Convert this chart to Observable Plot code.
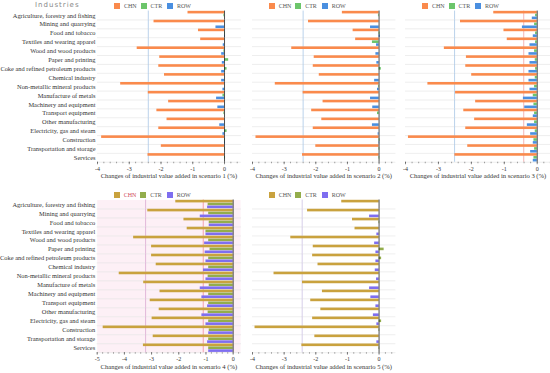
<!DOCTYPE html>
<html><head><meta charset="utf-8">
<script src="https://cdn.jsdelivr.net/npm/d3@7"></script>
<script src="https://cdn.jsdelivr.net/npm/@observablehq/plot@0.6"></script>
<style>
body{margin:0;background:#fff;}
#wrap{position:relative;width:550px;height:373px;overflow:hidden;font-family:"Liberation Serif",serif;}
.panel{position:absolute;}
.legend{position:absolute;font-size:6px;color:#555;white-space:nowrap;}
.legend span.item{position:absolute;top:0;display:flex;align-items:center;}
.legend span.sw{display:inline-block;width:6px;height:6px;margin-right:4px;}
#head{position:absolute;left:35px;top:1px;font-family:"DejaVu Sans",sans-serif;font-size:7px;letter-spacing:1px;color:#888;}
</style></head><body><div id="wrap"><div id="head">Industries</div></div>
<script>
const industries = ["Agriculture, forestry and fishing","Mining and quarrying","Food and tobacco","Textiles and wearing apparel","Wood and wood products","Paper and printing","Coke and refined petroleum products","Chemical industry","Non-metallic mineral products","Manufacture of metals","Machinery and equipment","Transport equipment","Other manufacturing","Electricity, gas and steam","Construction","Transportation and storage","Services"];
const series = ["CHN","CTR","ROW"];

const chn1 = [-1.15,-2.22,-0.82,-0.75,-2.75,-2.04,-2.07,-1.89,-3.27,-2.40,-1.76,-2.13,-1.81,-2.07,-3.87,-1.99,-2.41];
const ctr1 = [-0.02,0,0.02,0,-0.02,0.13,0.08,0,0,-0.05,0,-0.02,0,0.08,0.03,0.02,0.03];
const row1 = [0,-0.27,0.03,-0.04,-0.09,-0.07,-0.09,-0.09,-0.05,-0.25,-0.21,0,-0.15,-0.05,0.03,0,0];

const chn2 = [-1.16,-2.23,-0.82,-0.74,-2.76,-2.05,-2.08,-1.89,-3.28,-2.40,-1.77,-2.13,-1.81,-2.08,-3.89,-2.00,-2.42];
const ctr2 = [-0.02,0,0.03,-0.21,0,0,0.07,0,-0.02,0,0,-0.05,0,0,0.03,0.02,0.02];
const row2 = [0,-0.27,0.04,-0.08,-0.10,-0.07,0,-0.14,-0.05,-0.27,-0.20,0,-0.21,-0.03,0.02,0,0];

const chn3 = [-1.32,-2.33,-1.01,-0.91,-2.82,-2.15,-2.17,-1.99,-3.32,-2.48,-1.87,-2.23,-1.90,-2.17,-3.91,-2.11,-2.50];
const ctr3 = [-0.05,-0.08,-0.05,-0.05,-0.08,-0.06,-0.05,-0.06,-0.08,-0.12,-0.10,-0.08,-0.08,-0.06,-0.10,-0.08,-0.10];
const row3 = [-0.15,-0.45,-0.12,-0.22,-0.25,-0.22,-0.25,-0.25,-0.22,-0.42,-0.38,-0.12,-0.30,-0.20,-0.12,-0.20,-0.12];

const chn4 = [-2.11,-3.14,-1.81,-1.69,-3.66,-3.00,-3.00,-2.83,-4.19,-3.29,-2.69,-3.05,-2.72,-2.98,-4.78,-2.94,-3.30];
const ctr4 = [-0.92,-0.90,-0.88,-1.00,-0.90,-0.85,-0.90,-0.90,-0.92,-0.88,-0.90,-0.90,-0.92,-0.90,-0.88,-0.90,-0.90];
const row4 = [-0.94,-1.21,-0.88,-1.00,-1.05,-1.03,-1.00,-1.09,-1.00,-1.21,-1.15,-0.94,-1.15,-1.00,-0.90,-0.94,-0.90];

const chn5 = [-1.18,-2.26,-0.84,-0.76,-2.79,-2.08,-2.10,-1.93,-3.32,-2.42,-1.79,-2.16,-1.84,-2.10,-3.92,-2.03,-2.44];
const ctr5 = [0,0,0.02,0,0,0.16,0.08,0,0,0,0,0,0,0.08,0.02,0,0.02];
const row5 = [0,-0.30,0,-0.07,-0.14,-0.10,-0.10,-0.12,-0.08,-0.30,-0.26,-0.10,-0.18,-0.07,0,-0.07,0];

const scenarios = ["1","2","3","4","5"];
const refLineA = [-2.4,-2.4,-2.51,-3.22,-2.43];
const refLineB = [null,null,-0.41,-1.1,null];
const topColors = ["#fa8a4c","#6cc56b","#4a8fe0"];
const bottomColors = ["#c9a23e","#93ad4c","#7e6ef0"];

const wrap = document.getElementById("wrap");

function makePanel(cfg) {
  const {vals, domain, x0, x1, top, bandTop, bandBottom, height, colors, labels, title, lineA, lineB, lineAColor, lineBColor, pink, legendTop, legendRed} = cfg;
  const rows = industries.flatMap((ind, i) => series.map((s, j) => ({industry: ind, series: s, value: vals[j][i]})));
  const svgLeft = labels ? 0 : x0 - 4;
  const width = Math.ceil(x1 - svgLeft) + 1;
  const marks = [];
  if (pink) marks.push(Plot.frame({fill: "#fdf0f6", stroke: null}));
  marks.push(Plot.frame({anchor: "bottom", stroke: "#e2e2e2", strokeWidth: 0.6}));
  if (lineA != null) marks.push(Plot.ruleX([lineA], {stroke: lineAColor, strokeWidth: 0.8}));
  if (lineB != null) marks.push(Plot.ruleX([lineB], {stroke: lineBColor, strokeWidth: 0.8}));
  marks.push(Plot.barX(rows, {x: "value", y: "series", fy: "industry", fill: "series"}));
  marks.push(Plot.ruleX([0], {stroke: "#222", strokeWidth: 0.8}));
  const lo = Math.ceil(domain[0]), hi = Math.floor(domain[1]);
  marks.push(Plot.axisX({ticks: d3.range(domain[0], domain[1] + 1e-9, 0.2), tickSize: 1.5, tickFormat: () => "", label: null, stroke: "#444", strokeWidth: 0.5}));
  marks.push(Plot.axisX({ticks: d3.range(lo, hi + 1), tickSize: 2.5, tickPadding: 1.5, fontSize: 6, tickFormat: d => String(d), label: null, stroke: "#444", strokeWidth: 0.6, fill: "#333"}));
  marks.push(Plot.axisX({ticks: [], tickSize: 0, fontSize: 6.6, label: title, labelAnchor: "center", labelOffset: 16, labelArrow: "none", fill: "#333"}));
  if (labels) marks.push(Plot.axisFy({anchor: "left", tickSize: 0, tickPadding: 2, fontSize: 6.4, label: null, fill: "#333"}));
  const p = Plot.plot({
    width, height,
    marginLeft: x0 - svgLeft,
    marginRight: width - (x1 - svgLeft),
    marginTop: bandTop - top,
    marginBottom: height - (bandBottom - top),
    style: {fontFamily: "Liberation Serif, serif", fontSize: "6px", background: "transparent", overflow: "visible", color: "#333"},
    x: {domain, axis: null},
    y: {domain: series, padding: 0.1, axis: null, round: false},
    fy: {domain: industries, padding: 0, axis: null, round: false},
    color: {domain: series, range: colors},
    marks
  });
  p.classList.add("panel");
  p.style.left = svgLeft + "px";
  p.style.top = top + "px";
  wrap.appendChild(p);
  const lg = document.createElement("div");
  lg.className = "legend";
  lg.style.left = (x0 + 17) + "px";
  lg.style.top = legendTop + "px";
  series.forEach((s, j) => {
    const it = document.createElement("span");
    it.className = "item";
    it.style.left = (j * 26.5) + "px";
    it.innerHTML = `<span class="sw" style="background:${colors[j]}"></span><span style="color:${legendRed && j === 0 ? '#d04a5a' : '#555'}">${s}</span>`;
    lg.appendChild(it);
  });
  wrap.appendChild(lg);
}

const T = (k) => `Changes of industrial value added in scenario ${scenarios[k]} (%)`;
const topBase = {top: 0, bandTop: 10.55, bandBottom: 161.75, height: 185, legendTop: 2.5, colors: topColors, lineAColor: "#a9c7e6", lineBColor: "#f2a3a3"};
const botBase = {top: 185, bandTop: 199.5, bandBottom: 352.2, height: 188, legendTop: 191.5, colors: bottomColors};

makePanel({...topBase, vals: [chn1, ctr1, row1], domain: [-4, 0.5], x0: 97, x1: 239.9, labels: true, title: T(0), lineA: refLineA[0], lineB: refLineB[0]});
makePanel({...topBase, vals: [chn2, ctr2, row2], domain: [-4, 0.5], x0: 251.7, x1: 394.1, labels: false, title: T(1), lineA: refLineA[1], lineB: refLineB[1]});
makePanel({...topBase, vals: [chn3, ctr3, row3], domain: [-4, 0.4], x0: 405, x1: 549.9, labels: false, title: T(2), lineA: refLineA[2], lineB: refLineB[2]});
makePanel({...botBase, vals: [chn4, ctr4, row4], domain: [-5, 0.27], x0: 96.7, x1: 240, labels: true, title: T(3), lineA: refLineA[3], lineB: refLineB[3], lineAColor: "#d9a8d0", lineBColor: "#f08a9a", pink: true, legendRed: true});
makePanel({...botBase, vals: [chn5, ctr5, row5], domain: [-4, 0.5], x0: 251.7, x1: 394.1, labels: false, title: T(4), lineA: refLineA[4], lineB: refLineB[4], lineAColor: "#cbc3e3", lineBColor: "#f2a3a3"});
</script>
</body></html>
